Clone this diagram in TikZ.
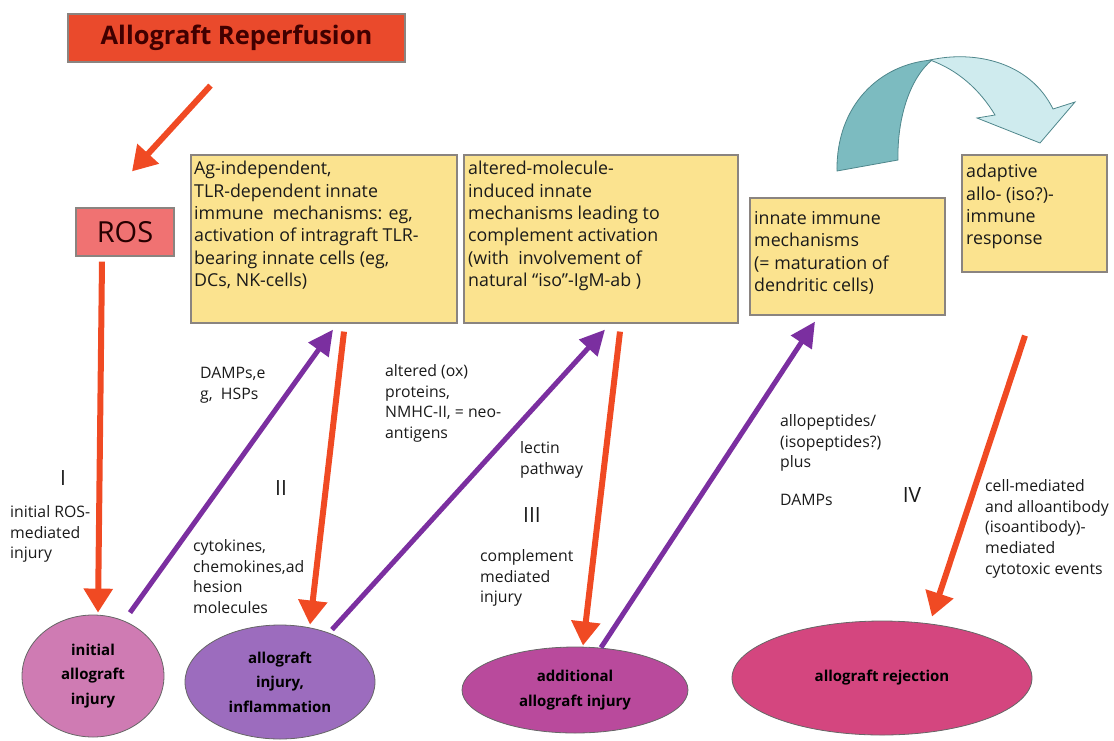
\documentclass[tikz,border=0pt]{standalone}
\usepackage{fontspec}
\setmainfont{Open Sans}
\usetikzlibrary{arrows.meta,shapes.geometric,calc}
\definecolor{repfill}{HTML}{EA4A2C}
\definecolor{rosfill}{HTML}{F07272}
\definecolor{yfill}{HTML}{FBE38F}
\definecolor{boxline}{HTML}{8A8480}
\definecolor{redarr}{HTML}{F04A23}
\definecolor{purarr}{HTML}{7B2FA0}
\definecolor{eone}{HTML}{CF7BB3}
\definecolor{etwo}{HTML}{9C6CBE}
\definecolor{ethree}{HTML}{B94A9C}
\definecolor{efour}{HTML}{D4467F}
\definecolor{tdark}{HTML}{7CBBC0}
\definecolor{tlight}{HTML}{CFEBEE}
\definecolor{tline}{HTML}{4F878C}
\definecolor{txt}{HTML}{1A1A1A}
\tikzset{
  ybox/.style={draw=boxline, line width=1.2pt, fill=yfill, inner sep=0pt},
  boxtext/.style={anchor=north west, align=left, inner sep=0pt, text=txt,
    font=\fontsize{17.8}{22.4}\selectfont},
  lab/.style={anchor=north west, align=left, inner sep=0pt, text=txt,
    font=\fontsize{15.8}{20.8}\selectfont},
  roman/.style={inner sep=0pt, text=txt, font=\fontsize{21}{24}\selectfont},
  ell/.style={ellipse, draw=black!60, line width=0.8pt, inner sep=0pt, align=center,
    text=black, font=\bfseries\fontsize{15}{24.5}\selectfont},
  redline/.style={draw=redarr, line width=6pt, -{Triangle[width=28pt,length=24pt]}},
  purline/.style={draw=purarr, line width=5pt, -{Triangle[width=24pt,length=25pt]}},
}
\begin{document}
\begin{tikzpicture}[x=1pt,y=-1pt]
\useasboundingbox (0,0) rectangle (1114,740);
% top boxes
\node[draw=boxline, line width=1.2pt, fill=repfill, minimum width=337pt, minimum height=48pt,
  text=black!75!red, font=\bfseries\fontsize{25.5}{28}\selectfont] (rep) at (236.5,38) {Allograft Reperfusion};
\node[draw=boxline, line width=1.2pt, fill=rosfill, minimum width=98pt, minimum height=48pt,
  text=black!85!red, font=\fontsize{29}{30}\selectfont] (ros) at (125,232) {ROS};
% yellow boxes
\node[ybox, minimum width=266pt, minimum height=168pt] (b1) at (324,239) {};
\node[ybox, minimum width=274pt, minimum height=168pt] (b2) at (601,239) {};
\node[ybox, minimum width=195pt, minimum height=117pt] (b3) at (847.5,256.5) {};
\node[ybox, minimum width=145pt, minimum height=117pt] (b4) at (1034.5,213.5) {};
\node[boxtext] (t1) at (194,161) {Ag-independent,\\TLR-dependent innate\\immune\ \ mechanisms: eg,\\activation of intragraft TLR-\\bearing innate cells (eg,\\DCs, NK-cells)};
\node[boxtext] (t2) at (468,161) {altered-molecule-\\induced innate\\mechanisms leading to\\complement activation\\(with\ \ involvement of\\natural ``iso''-IgM-ab )};
\node[boxtext] (t3) at (754,211) {innate immune\\mechanisms\\(= maturation of\\dendritic cells)};
\node[boxtext] (t4) at (966,164) {adaptive\\allo- (iso?)-\\immune\\response};
% curved ribbon arrow
\filldraw[fill=tdark, draw=tline, line width=0.8pt]
  (837,171) .. controls (836,105) and (880,64) .. (932,60)
  .. controls (910,78) and (897,118) .. (898,160) -- cycle;
\filldraw[fill=tlight, draw=tline, line width=0.8pt]
  (930,60) .. controls (975,50) and (1030,62) .. (1053,109)
  -- (1075,102) -- (1040,143) -- (977,118) -- (995,115)
  .. controls (980,90) and (958,70) .. (930,60) -- cycle;
% ellipses
\node[ell, fill=eone, minimum width=142pt, minimum height=122pt] (e1) at (93,676) {initial\\allograft\\injury};
\node[ell, fill=etwo, minimum width=190pt, minimum height=114pt] (e2) at (280,682) {allograft\\injury,\\inflammation};
\node[ell, fill=ethree, minimum width=226pt, minimum height=86pt] (e3) at (575,690) {additional\\allograft injury};
\node[ell, fill=efour, minimum width=300pt, minimum height=114pt] (e4) at (882,678) {allograft rejection};
% arrows
\draw[redline] ([xshift=-26pt,yshift=-23pt]rep.south) -- ([xshift=7pt,yshift=36pt]ros.north);
\draw[redline] ([xshift=-23pt,yshift=-5pt]ros.south) -- ([xshift=5pt,yshift=2pt]e1.north);
\draw[purline] ([xshift=37pt,yshift=2pt]e1.north) -- ([xshift=9pt,yshift=-6pt]b1.south);
\draw[redline] ([xshift=20pt,yshift=-8pt]b1.south) -- ([xshift=30pt,yshift=0pt]e2.north);
\draw[purline] ([xshift=52pt,yshift=-5pt]e2.north) -- ([xshift=4pt,yshift=-6pt]b2.south);
\draw[redline] ([xshift=19pt,yshift=-8pt]b2.south) -- ([xshift=8pt,yshift=1pt]e3.north);
\draw[purline] ([xshift=26pt,yshift=-1pt]e3.north) -- ([xshift=-32.5pt,yshift=-6pt]b3.south);
\draw[redline] ([xshift=-9.5pt,yshift=-63pt]b4.south) -- ([xshift=50pt,yshift=4pt]e4.north);
% labels
\node[roman] (r1) at (63,478) {I};
\node[roman] (r2) at (281,488) {II};
\node[roman] (r3) at (532,515) {III};
\node[roman] (r4) at (912,495) {IV};
\node[lab] (l1) at (10,505) {initial ROS-\\mediated\\injury};
\node[lab] (l2) at (200,367) {DAMPs,e\\g,\ \ HSPs};
\node[lab] (l3) at (193,539) {cytokines,\\chemokines,ad\\hesion\\molecules};
\node[lab] (l4) at (385,364) {altered (ox)\\proteins,\\NMHC-II, = neo-\\antigens};
\node[lab] (l5) at (520,441) {lectin\\pathway};
\node[lab] (l6) at (480,549) {complement\\mediated\\injury};
\node[lab] (l7) at (780,414) {allopeptides/\\(isopeptides?)\\plus};
\node[lab] (l8) at (780,494) {DAMPs};
\node[lab] (l9) at (985,479) {cell-mediated\\and alloantibody\\(isoantibody)-\\mediated\\cytotoxic events};
\end{tikzpicture}
\end{document}
